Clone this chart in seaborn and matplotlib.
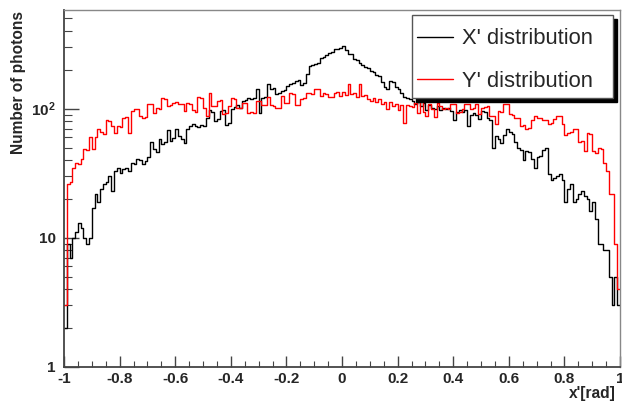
import numpy as np
import matplotlib
matplotlib.use("Agg")
import matplotlib.pyplot as plt
import seaborn as sns
from matplotlib.patches import Rectangle
from matplotlib.ticker import MultipleLocator, FixedLocator, FixedFormatter, LogLocator, NullFormatter

# ---- data (200 bins from -1 to 1) ----
x_min, x_max, n_bins = -1.0, 1.0, 200

x_counts = [
    2, 9, 7, 10, 11, 13, 12, 10, 9, 10,
    17, 22, 19, 24, 26, 27, 30, 23, 33, 35,
    32, 34, 35, 33, 38, 37, 41, 40, 37, 39,
    42, 55, 49, 46, 58, 53, 55, 68, 56, 59,
    70, 61, 58, 54, 70, 73, 76, 74, 72, 75,
    73, 85, 97, 94, 80, 83, 96, 98, 75, 78,
    100, 103, 106, 102, 114, 117, 121, 118, 120, 142,
    93, 121, 124, 155, 141, 145, 130, 133, 137, 140,
    150, 154, 157, 163, 166, 153, 157, 186, 212, 218,
    220, 225, 248, 252, 262, 268, 272, 288, 292, 296,
    305, 282, 266, 263, 242, 237, 224, 219, 209, 205,
    197, 193, 182, 178, 160, 146, 143, 165, 162, 147,
    143, 131, 124, 120, 118, 115, 108, 112, 104, 110,
    98, 106, 102, 100, 104, 98, 101, 99, 102, 96,
    81, 95, 98, 94, 97, 74, 90, 93, 89, 83,
    96, 94, 84, 82, 50, 61, 58, 54, 62, 70,
    66, 64, 55, 50, 48, 40, 47, 46, 41, 35,
    42, 43, 48, 50, 31, 28, 29, 30, 31, 28,
    19, 24, 26, 19, 20, 22, 23, 21, 20, 16,
    19, 14, 9, 9, 8, 8, 5, 3, 5, 3,
]

y_counts = [
    3, 26, 27, 35, 38, 37, 41, 49, 48, 60,
    49, 60, 70, 66, 64, 81, 80, 74, 65, 73,
    72, 85, 86, 65, 96, 100, 99, 88, 85, 86,
    109, 108, 93, 102, 100, 120, 119, 105, 106, 111,
    112, 109, 108, 96, 111, 109, 97, 95, 122, 121,
    101, 88, 133, 105, 104, 115, 116, 91, 92, 105,
    120, 119, 101, 102, 111, 110, 93, 94, 92, 115,
    114, 106, 107, 122, 106, 105, 101, 102, 125, 111,
    110, 131, 130, 106, 107, 119, 120, 133, 131, 130,
    143, 142, 125, 131, 130, 122, 123, 133, 134, 125,
    135, 128, 155, 130, 132, 122, 155, 125, 128, 118,
    115, 120, 112, 118, 108, 112, 100, 112, 105, 109,
    98, 106, 78, 106, 105, 103, 110, 92, 115, 95,
    88, 108, 100, 86, 110, 105, 100, 101, 99, 109,
    108, 93, 94, 100, 109, 108, 100, 101, 109, 91,
    102, 103, 105, 88, 87, 76, 96, 95, 109, 108,
    91, 90, 85, 84, 74, 75, 70, 71, 81, 88,
    85, 84, 81, 82, 76, 77, 83, 88, 87, 76,
    62, 65, 66, 70, 69, 55, 56, 47, 65, 64,
    47, 45, 50, 49, 38, 33, 22, 22, 9, 4,
]

series_labels = ["X' distribution", "Y' distribution"]
series_colors = ["black", "red"]
x_tick_values = [-1, -0.8, -0.6, -0.4, -0.2, 0, 0.2, 0.4, 0.6, 0.8, 1]
x_tick_labels = ["-1", "-0.8", "-0.6", "-0.4", "-0.2", "0", "0.2", "0.4", "0.6", "0.8", "1"]
y_tick_values = [1, 10, 100]
y_tick_labels = ["1", "10", "10$^{2}$"]

edges = np.linspace(x_min, x_max, n_bins + 1).tolist()
centers = [0.5 * (edges[i] + edges[i + 1]) for i in range(n_bins)]

# ---- style ----
sns.set_theme(style="white")
plt.rcParams["font.family"] = ["Liberation Sans", "DejaVu Sans"]
plt.rcParams["mathtext.fontset"] = "custom"
plt.rcParams["mathtext.rm"] = "Liberation Sans:bold"
plt.rcParams["mathtext.it"] = "Liberation Sans:bold"
plt.rcParams["mathtext.bf"] = "Liberation Sans:bold"

W, H = 622, 405
fig = plt.figure(figsize=(W / 100, H / 100), dpi=100)
ax = fig.add_axes([64 / W, 1 - 367 / H, 556 / W, 357 / H])

for lab, col, counts in zip(series_labels, series_colors, [x_counts, y_counts]):
    sns.histplot(x=np.array(centers), weights=np.array(counts, dtype=float),
                 bins=edges, element="step", fill=False, color=col,
                 linewidth=1.0, ax=ax, label=lab)

ax.set_yscale("log")
ax.set_xlim(x_min, x_max)
ax.set_ylim(1, 580)

ax.xaxis.set_major_locator(FixedLocator(x_tick_values))
ax.xaxis.set_major_formatter(FixedFormatter(x_tick_labels))
ax.xaxis.set_minor_locator(MultipleLocator(0.05))
ax.yaxis.set_major_locator(FixedLocator(y_tick_values))
ax.yaxis.set_major_formatter(FixedFormatter(y_tick_labels))
ax.yaxis.set_minor_locator(LogLocator(base=10, subs=np.arange(2, 10)))
ax.yaxis.set_minor_formatter(NullFormatter())

axis_col = "#444444"
ax.tick_params(axis="x", which="major", direction="in", length=8, width=1.0,
               color=axis_col, pad=3.5, labelsize=11, top=False, bottom=True)
ax.tick_params(axis="x", which="minor", direction="in", length=4, width=0.8,
               color=axis_col, top=False, bottom=True)
ax.tick_params(axis="y", which="major", direction="in", length=11, width=1.0,
               color=axis_col, pad=6, labelsize=11, left=True, right=False)
ax.tick_params(axis="y", which="minor", direction="in", length=6, width=0.8,
               color=axis_col, left=True, right=False)
for t in ax.get_xticklabels() + ax.get_yticklabels():
    t.set_fontweight("bold")

for side in ["left", "bottom"]:
    ax.spines[side].set_color(axis_col)
    ax.spines[side].set_linewidth(1.3)
for side in ["top", "right"]:
    ax.spines[side].set_color("#888888")
    ax.spines[side].set_linewidth(1.0)

ax.set_xlabel("x'[rad]", fontweight="bold", fontsize=11.2, loc="right")
ax.xaxis.set_label_coords((616 - 64) / 556, (367 - 386) / 357)
ax.set_ylabel("Number of photons", fontweight="bold", fontsize=11.2, loc="top")
ax.yaxis.set_label_coords((26 - 64) / 556, (367 - 11) / 357)

# legend box with solid ROOT-style shadow (pixel coordinates, dpi 100)
bx0, by0, bx1, by1 = 412, 15, 613, 98
sh = 4
ax.add_patch(Rectangle((bx0 + sh, H - by1 - sh), bx1 - bx0, by1 - by0,
                       transform=None, facecolor="black", edgecolor="black",
                       zorder=4.5, clip_on=False))
ax.add_patch(Rectangle((bx0, H - by1), bx1 - bx0, by1 - by0,
                       transform=None, facecolor="white", edgecolor="#555555",
                       linewidth=1.0, zorder=4.6, clip_on=False))

leg = ax.legend(loc="upper left",
                bbox_to_anchor=((bx0 - 4) / W, 1 - (by0 + 4) / H),
                bbox_transform=fig.transFigure,
                fontsize=15.8, frameon=False,
                handlelength=1.65, handletextpad=0.37, labelspacing=0.98,
                borderpad=0.42, borderaxespad=0.0)
leg.set_zorder(5)
for h in leg.legend_handles:
    h.set_linewidth(1.0)

fig.savefig("out.png", dpi=100)
